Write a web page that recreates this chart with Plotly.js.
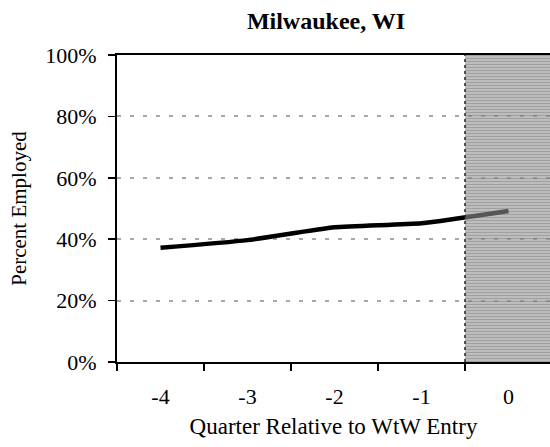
<!DOCTYPE html>
<html>
<head>
<meta charset="utf-8">
<script src="https://cdn.plot.ly/plotly-3.0.1.min.js"></script>
<style>html,body{margin:0;padding:0;background:#fff;}#chart{width:550px;height:447px;}</style>
</head>
<body>
<div id="chart"></div>
<script>
// Data
var quarters = ["-4", "-3", "-2", "-1", "0"];
var percentEmployed = [0.372, 0.397, 0.439, 0.452, 0.492];
var yTickVals = [0, 0.2, 0.4, 0.6, 0.8, 1.0];
var shadedFromCategory = "0";

var W = 550, H = 447;
var M = {l: 117, r: 0, t: 55, b: 85};
var plotW = W - M.l - M.r, plotH = H - M.t - M.b;
var catWidth = 87;
var xMax = -0.5 + plotW / catWidth;

// striped semi-transparent overlay for the shaded region
var startIdx = quarters.indexOf(shadedFromCategory) - 0.5;
var shadeW = Math.round((xMax - startIdx) * catWidth);
var cv = document.createElement('canvas');
cv.width = shadeW; cv.height = plotH;
var ctx = cv.getContext('2d');
for (var r = 0; r < plotH; r++) {
  ctx.fillStyle = (r % 3 === 0) ? 'rgba(120,120,120,0.70)' : 'rgba(145,145,145,0.60)';
  ctx.fillRect(0, r, shadeW, 1);
}
var stripeSrc = cv.toDataURL('image/png');

var trace = {
  x: quarters,
  y: percentEmployed,
  type: 'scatter',
  mode: 'lines',
  line: {color: '#000', width: 4.5, shape: 'spline', smoothing: 0.5},
  hoverinfo: 'skip',
  showlegend: false
};

var FAM = 'Liberation Serif, Times New Roman, serif';
var font = {family: FAM, color: '#000', size: 22};

var layout = {
  width: W, height: H,
  margin: M,
  paper_bgcolor: '#fff',
  plot_bgcolor: '#fff',
  font: font,
  showlegend: false,
  title: {
    text: '<b>Milwaukee, WI</b>',
    font: {family: FAM, size: 24, color: '#000'},
    xref: 'container', x: 326 / W, xanchor: 'center',
    yref: 'container', y: 1 - 21 / H, yanchor: 'middle'
  },
  xaxis: {
    type: 'category',
    range: [-0.5, xMax],
    tickson: 'boundaries',
    ticks: 'outside', ticklen: 7, tickwidth: 1.5, tickcolor: '#000',
    showgrid: false,
    showline: true, linecolor: '#000', linewidth: 2,
    mirror: true,
    ticklabelstandoff: 14,
    tickfont: {family: FAM, size: 22, color: '#000'},
    title: {text: 'Quarter Relative to WtW Entry', standoff: 9,
            font: {family: FAM, size: 23, color: '#000'}},
    automargin: false,
    fixedrange: true
  },
  yaxis: {
    range: [0, 1],
    tickvals: yTickVals,
    tickformat: '.0%',
    ticks: 'outside', ticklen: 7, tickwidth: 1.5, tickcolor: '#000',
    showgrid: true, gridcolor: '#a8a8a8', gridwidth: 2, griddash: '4px,9px',
    zeroline: false,
    showline: true, linecolor: '#000', linewidth: 2,
    ticklabelstandoff: 7,
    tickfont: {family: FAM, size: 22, color: '#000'},
    title: {text: 'Percent Employed', standoff: 13,
            font: {family: FAM, size: 21, color: '#000'}},
    automargin: false,
    fixedrange: true
  },
  images: [{
    source: stripeSrc,
    xref: 'x', yref: 'y',
    x: startIdx, y: 1,
    sizex: xMax - startIdx, sizey: 1,
    xanchor: 'left', yanchor: 'top',
    sizing: 'stretch',
    layer: 'above'
  }],
  shapes: [{
    type: 'line', xref: 'x', yref: 'y',
    x0: startIdx, x1: startIdx, y0: 0, y1: 1,
    line: {color: '#222', width: 1.5, dash: 'dot'},
    layer: 'above'
  }]
};

Plotly.newPlot('chart', [trace], layout, {staticPlot: true, displayModeBar: false});
</script>
</body>
</html>
